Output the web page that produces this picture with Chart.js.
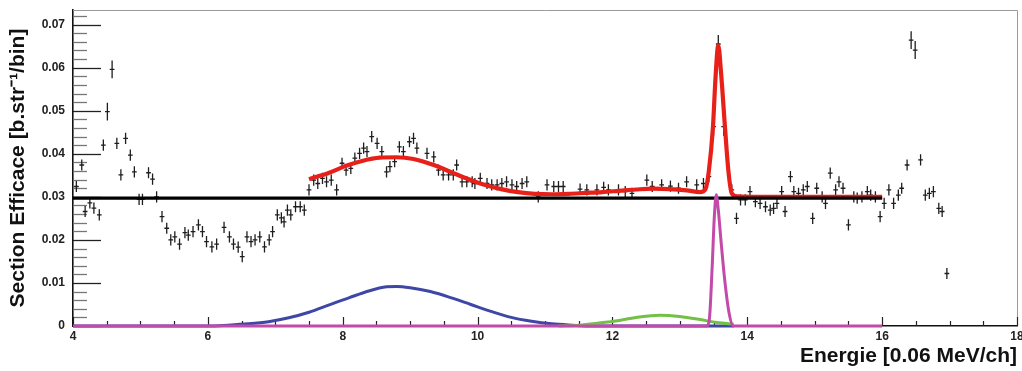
<!DOCTYPE html>
<html><head><meta charset="utf-8">
<script src="https://cdn.jsdelivr.net/npm/chart.js@4.4.1/dist/chart.umd.min.js"></script>
<style>html,body{margin:0;padding:0;background:#fff}</style>
</head><body>
<canvas id="c" width="1022" height="371"></canvas>
<script>
// ---- data ----
const dataX = [4.05,4.13,4.18,4.25,4.31,4.39,4.45,4.51,4.58,4.65,4.71,4.78,4.85,4.91,4.98,5.03,5.12,5.18,5.24,5.32,
 5.39,5.45,5.51,5.58,5.66,5.71,5.78,5.86,5.92,5.98,6.06,6.13,6.24,6.32,6.38,6.45,6.51,6.58,6.64,6.70,
 6.77,6.84,6.91,6.96,7.03,7.09,7.13,7.18,7.23,7.30,7.37,7.43,7.50,7.57,7.63,7.70,7.76,7.83,7.91,7.99,
 8.05,8.12,8.18,8.25,8.31,8.36,8.43,8.51,8.58,8.65,8.70,8.77,8.84,8.90,8.99,9.05,9.10,9.25,9.35,9.42,
 9.49,9.57,9.64,9.69,9.77,9.84,9.92,9.96,10.04,10.14,10.21,10.29,10.36,10.43,10.51,10.58,10.66,10.73,10.90,11.03,
 11.13,11.20,11.27,11.52,11.62,11.77,11.87,11.94,12.09,12.19,12.29,12.51,12.59,12.73,12.86,12.98,13.10,13.25,13.35,13.43,
 13.50,13.57,13.65,13.77,13.84,13.90,13.97,14.04,14.12,14.19,14.27,14.34,14.39,14.44,14.51,14.56,14.64,14.69,14.76,14.83,
 14.89,14.97,15.03,15.11,15.16,15.23,15.31,15.36,15.42,15.50,15.58,15.63,15.70,15.78,15.83,15.90,15.97,16.03,16.10,16.17,
 16.24,16.29,16.37,16.43,16.49,16.57,16.64,16.70,16.76,16.84,16.89,16.96];
const dataY = [0.0324,0.0374,0.0266,0.0286,0.0274,0.0258,0.0420,0.0498,0.0596,0.0424,0.0351,0.0436,0.0397,0.0358,0.0294,0.0294,0.0356,0.0341,0.0300,0.0254,
 0.0227,0.0200,0.0207,0.0190,0.0217,0.0211,0.0219,0.0235,0.0219,0.0196,0.0184,0.0190,0.0229,0.0207,0.0190,0.0183,0.0161,0.0207,0.0196,0.0200,
 0.0207,0.0184,0.0200,0.0219,0.0258,0.0251,0.0242,0.0269,0.0258,0.0277,0.0277,0.0269,0.0316,0.0339,0.0331,0.0343,0.0335,0.0339,0.0316,0.0378,
 0.0362,0.0366,0.0390,0.0401,0.0413,0.0405,0.0440,0.0424,0.0405,0.0358,0.0370,0.0382,0.0416,0.0405,0.0428,0.0436,0.0413,0.0401,0.0393,0.0362,
 0.0351,0.0351,0.0351,0.0374,0.0335,0.0335,0.0335,0.0331,0.0343,0.0331,0.0328,0.0328,0.0331,0.0335,0.0328,0.0324,0.0331,0.0335,0.0300,0.0328,
 0.0324,0.0324,0.0324,0.0318,0.0316,0.0316,0.0322,0.0316,0.0316,0.0312,0.0308,0.0339,0.0324,0.0328,0.0325,0.0320,0.0335,0.0328,0.0331,0.0347,
 0.0463,0.0655,0.0463,0.0316,0.0250,0.0293,0.0293,0.0312,0.0289,0.0285,0.0277,0.0269,0.0273,0.0285,0.0312,0.0266,0.0347,0.0312,0.0308,0.0316,
 0.0324,0.0250,0.0320,0.0300,0.0285,0.0355,0.0316,0.0335,0.0320,0.0235,0.0300,0.0297,0.0300,0.0312,0.0304,0.0300,0.0254,0.0285,0.0316,0.0285,
 0.0304,0.0320,0.0374,0.0664,0.0641,0.0386,0.0304,0.0308,0.0312,0.0273,0.0266,0.0122];
const ERR_Y = 0.0013;   // half length of the vertical error bars
const ERR_X = 0.035;    // half bin width

const flatX = [4, 16];
const flatY = [0.0297, 0.0297];

const fitX = [7.50,7.80,8.05,8.30,8.55,8.80,9.05,9.35,9.60,9.85,10.10,10.35,10.60,10.85,11.10,11.35,11.60,11.85,12.10,12.35,
 12.60,12.85,13.10,13.30,13.38,13.43,13.49,13.53,13.57,13.61,13.67,13.72,13.77,13.85,14.20,16.00];
const fitY = [0.0341,0.0356,0.0372,0.0384,0.0391,0.0392,0.0388,0.0374,0.0358,0.0342,0.0328,0.0318,0.0311,0.0307,0.0306,0.0307,0.0309,0.0311,0.0314,0.0317,
 0.0319,0.0318,0.0315,0.0311,0.0318,0.0360,0.0460,0.0580,0.0652,0.0590,0.0460,0.0360,0.0308,0.0301,0.0300,0.0300];

const blueX = [4,6.0,6.3,6.6,6.9,7.2,7.5,7.8,8.1,8.4,8.65,8.8,9.0,9.3,9.6,9.9,10.2,10.5,10.8,11.1,11.4,11.7,13.8];
const blueY = [0,0,0.0002,0.0005,0.0010,0.0019,0.0032,0.0049,0.0066,0.0082,0.0091,0.0092,0.0089,0.0080,0.0066,0.0050,0.0034,0.0020,0.0011,0.0005,0.0002,0,0];

const greenX = [11.2,11.5,11.8,12.1,12.4,12.7,13.0,13.3,13.55,13.8];
const greenY = [0,0.0002,0.0007,0.0013,0.0021,0.0025,0.0022,0.0015,0.0008,0.0004];

const magX = [4,13.40,13.44,13.48,13.51,13.54,13.57,13.61,13.67,13.73,13.79,16];
const magY = [0,0,0.002,0.014,0.025,0.0305,0.027,0.0198,0.010,0.003,0,0];

const xTickVals = [4,6,8,10,12,14,16,18];
const xTickLabels = ['4','6','8','10','12','14','16','18'];
const yTickVals = [0,0.01,0.02,0.03,0.04,0.05,0.06,0.07];
const yTickLabels = ['0','0.01','0.02','0.03','0.04','0.05','0.06','0.07'];

const xTitle = 'Energie [0.06 MeV/ch]';
const yTitle = 'Section Efficace [b.str\u207B\u00B9/bin]';

// ---- build ----
const pts = (xs, ys) => xs.map((x, i) => ({x, y: ys[i]}));
Chart.defaults.font.family = "'Liberation Sans', Arial, Helvetica, sans-serif";

const frameAndCrosses = {
  id: 'frameAndCrosses',
  beforeDatasetsDraw(chart) {
    const {ctx, chartArea: a, scales: {x, y}} = chart;
    ctx.save();
    ctx.strokeStyle = '#9a9a9a'; ctx.lineWidth = 1;
    ctx.beginPath();
    ctx.moveTo(a.left, a.top + 0.5); ctx.lineTo(a.right + 0.5, a.top + 0.5); ctx.lineTo(a.right + 0.5, a.bottom);
    ctx.stroke();
    for (let k = 0; k <= 36; k++) {
      const v = k * 0.002;
      const py = Math.round(y.getPixelForValue(v)) + 0.5;
      if (py < a.top) continue;
      const major = k % 5 === 0;
      ctx.strokeStyle = major ? '#222' : '#777';
      ctx.lineWidth = 1.3;
      ctx.beginPath(); ctx.moveTo(a.left, py); ctx.lineTo(a.left + (major ? 28 : 14), py); ctx.stroke();
    }
    for (let k = 0; k <= 28; k++) {
      const v = 4 + k * 0.5;
      const px = Math.round(x.getPixelForValue(v)) + 0.5;
      const major = k % 4 === 0;
      ctx.strokeStyle = '#222'; ctx.lineWidth = 1.2;
      ctx.beginPath(); ctx.moveTo(px, a.bottom); ctx.lineTo(px, a.bottom - (major ? 9 : 5)); ctx.stroke();
    }
    ctx.strokeStyle = '#1e1e1e'; ctx.lineWidth = 1.3;
    ctx.beginPath();
    dataX.forEach((vx, i) => {
      const vy = dataY[i];
      const px = x.getPixelForValue(vx), py = y.getPixelForValue(vy);
      const e = vy > 0.045 ? ERR_Y * 1.6 : ERR_Y;
      ctx.moveTo(px, y.getPixelForValue(vy - e)); ctx.lineTo(px, y.getPixelForValue(vy + e));
      ctx.moveTo(x.getPixelForValue(vx - ERR_X), py); ctx.lineTo(x.getPixelForValue(vx + ERR_X), py);
    });
    ctx.stroke();
    ctx.restore();
  }
};

const lineDs = (label, xs, ys, color, w, order) => ({
  label, data: pts(xs, ys), showLine: true, borderColor: color, backgroundColor: color,
  borderWidth: w, pointRadius: 0, cubicInterpolationMode: 'monotone', order, fill: false,
  borderCapStyle: 'butt', clip: 4
});

new Chart(document.getElementById('c'), {
  type: 'scatter',
  data: {
    datasets: [
      lineDs('magenta', magX, magY, '#c24aa9', 3, 1),
      lineDs('constant', flatX, flatY, '#000000', 3.2, 2),
      lineDs('fit', fitX, fitY, '#e8201a', 4.2, 3),
      lineDs('green', greenX, greenY, '#72c046', 3, 4),
      lineDs('blue', blueX, blueY, '#3e46a6', 3, 5),
      {label: 'data', data: pts(dataX, dataY), pointRadius: 0, showLine: false, order: 6}
    ]
  },
  options: {
    responsive: false, animation: false, devicePixelRatio: 1,
    layout: {padding: {top: 10, right: 5, left: 0, bottom: 0}},
    plugins: {legend: {display: false}, tooltip: {enabled: false}},
    scales: {
      x: {
        type: 'linear', min: 4, max: 18,
        afterBuildTicks: s => { s.ticks = xTickVals.map(v => ({value: v})); },
        afterFit: s => { s.height = 45; s.paddingLeft = 0; s.paddingRight = 0; },
        grid: {display: false, drawTicks: false},
        border: {display: true, color: '#111', width: 1.6},
        ticks: {
          padding: 3, color: '#222', font: {size: 12, weight: 'bold'},
          callback: (v) => { const i = xTickVals.indexOf(v); return i >= 0 ? xTickLabels[i] : ''; },
          maxRotation: 0, autoSkip: false
        },
        title: {display: true, text: xTitle, align: 'end', color: '#111',
          font: {size: 21, weight: 'bold'}, padding: {top: 0, bottom: 2}}
      },
      y: {
        type: 'linear', min: 0, max: 0.0734,
        afterBuildTicks: s => { s.ticks = yTickVals.map(v => ({value: v})); },
        afterFit: s => { s.width = 73; s.paddingTop = 0; s.paddingBottom = 0; },
        grid: {display: false, drawTicks: false},
        border: {display: true, color: '#111', width: 1.6},
        ticks: {
          padding: 8, color: '#222', font: {size: 12, weight: 'bold'},
          callback: (v) => { const i = yTickVals.findIndex(t => Math.abs(t - v) < 1e-9); return i >= 0 ? yTickLabels[i] : ''; },
          autoSkip: false
        },
        title: {display: true, text: yTitle, color: '#111',
          font: {size: 21, weight: 'bold'}, padding: {top: 6, bottom: 0}}
      }
    }
  },
  plugins: [frameAndCrosses]
});
</script>
</body></html>
